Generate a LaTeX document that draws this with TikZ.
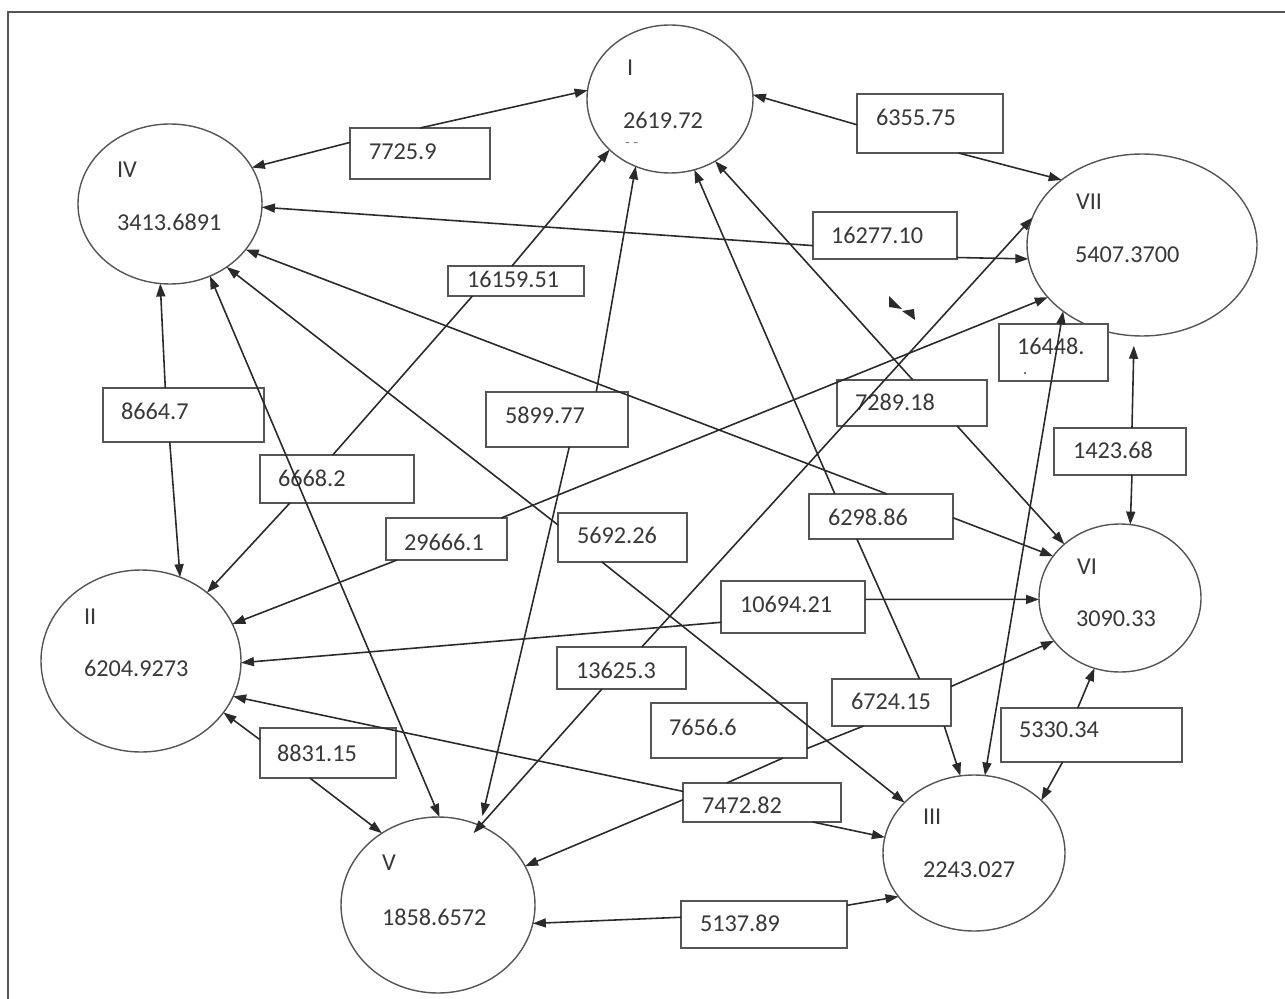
\documentclass[tikz,border=0pt]{standalone}
\usepackage{fontspec}
\setmainfont{Carlito}
\usetikzlibrary{shapes.geometric,arrows.meta}
\definecolor{ink}{HTML}{2A2A2A}
\definecolor{txt}{HTML}{383838}
\definecolor{edgec}{HTML}{555555}
\tikzset{
  vtx/.style={ellipse, draw=edgec, line width=0.8pt, inner sep=0pt, outer sep=0pt},
  lbl/.style={text=txt, inner sep=0pt, outer sep=0pt, anchor=west, font=\fontsize{13.8}{16}\selectfont},
  boxst/.style={draw=edgec, fill=white, line width=0.8pt, inner sep=0pt, outer sep=0pt, anchor=north west},
  con/.style={draw=ink, line width=0.9pt},
  arr/.style={con, -{Triangle[length=2.6mm, width=1.8mm]}},
  darr/.style={con, {Triangle[length=2.6mm, width=1.8mm]}-{Triangle[length=2.6mm, width=1.8mm]}},
}
\newcommand\lbox[8]{%
  \node[boxst, minimum width=#4*0.2mm, minimum height=#5*0.2mm] (#1) at (#2,#3) {};
  \node[lbl] (#1t) at (#6,#7) {#8};}
\begin{document}
\begin{tikzpicture}[x=0.2mm, y=-0.2mm]
\useasboundingbox (0,0) rectangle (1285,999);
% frame
\draw[edgec, line width=0.9pt] (8,999) -- (8,12) -- (1285,12);
% vertices
\node[vtx, minimum width=166*0.2mm, minimum height=148*0.2mm] (I) at (670,99) {};
\node[vtx, minimum width=184*0.2mm, minimum height=160*0.2mm] (IV) at (170,204) {};
\node[vtx, minimum width=230*0.2mm, minimum height=182*0.2mm] (VII) at (1142,245) {};
\node[vtx, minimum width=162*0.2mm, minimum height=148*0.2mm] (VI) at (1120,598) {};
\node[vtx, minimum width=200*0.2mm, minimum height=182*0.2mm] (II) at (141,661) {};
\node[vtx, minimum width=194*0.2mm, minimum height=176*0.2mm] (V) at (438,905) {};
\node[vtx, minimum width=182*0.2mm, minimum height=156*0.2mm] (III) at (974,853) {};
% vertex labels
\node[lbl] (Ia) at (627,68) {I};
\node[lbl] (Ib) at (623,120) {2619.72};
\node[lbl, text=gray, font=\fontsize{9}{9}\selectfont] (Ic) at (625,145) {- -};
\node[lbl] (IVa) at (117,170) {IV};
\node[lbl] (IVb) at (117,222) {3413.6891};
\node[lbl] (VIIa) at (1076,202) {VII};
\node[lbl] (VIIb) at (1075,255) {5407.3700};
\node[lbl] (VIa) at (1077,567) {VI};
\node[lbl] (VIb) at (1076,619) {3090.33};
\node[lbl] (IIa) at (84,617) {II};
\node[lbl] (IIb) at (84,668) {6204.9273};
\node[lbl] (Va) at (382,863) {V};
\node[lbl] (Vb) at (382,917) {1858.6572};
\node[lbl] (IIIa) at (923,817) {III};
\node[lbl] (IIIb) at (923,870) {2243.027};
% weight boxes
\lbox{B1}{350}{128}{140}{51}{369}{152}{7725.9}
\lbox{B2}{448}{266}{136}{30}{467}{279}{16159.51}
\lbox{B3}{857}{94}{146}{59}{876}{117}{6355.75}
\lbox{B4}{813}{212}{144}{47}{831}{235}{16277.10}
\lbox{B5}{103}{388}{161}{54}{121}{411}{8664.7}
\lbox{B6}{260}{455}{154}{48}{278}{478}{6668.2}
\lbox{B7}{386}{518}{121}{42}{404}{542}{29666.1}
\lbox{B8}{486}{392}{142}{55}{505}{415}{5899.77}
\lbox{B9}{558}{513}{129}{49}{577}{535}{5692.26}
\lbox{B10}{721}{581}{144}{52}{740}{604}{10694.21}
\lbox{B11}{557}{647}{129}{42}{576}{670}{13625.3}
\lbox{B12}{651}{703}{156}{55}{669}{727}{7656.6}
\lbox{B13}{832}{679}{119}{47}{851}{701}{6724.15}
\lbox{B14}{809}{494}{144}{45}{828}{517}{6298.86}
\lbox{B15}{683}{783}{158}{39}{702}{805}{7472.82}
\lbox{B16}{837}{380}{150}{46}{855}{402}{7289.18}
\lbox{B17}{999}{324}{109}{57}{1017}{346}{16448.}
\node[lbl, font=\fontsize{9}{9}\selectfont] (B17d) at (1023,374) {.};
\lbox{B18}{1054}{428}{132}{47}{1073}{450}{1423.68}
\lbox{B19}{1001}{708}{181}{54}{1019}{730}{5330.34}
\lbox{B20}{260}{728}{136}{50}{277}{753}{8831.15}
\lbox{B21}{681}{901}{166}{47}{700}{923}{5137.89}
% connectors
\draw[arr] (B1.90) -- (I.174);
\draw[arr] (B1.171) -- (IV.24);
\draw[arr] (B3.181) -- (I.3);
\draw[arr] (B3.314) -- (VII.141);
\draw[arr] (B4.188) -- (IV.358);
\draw[arr] (B4.343) -- (VII.187);
\draw[arr] (B2.105) -- (I.220);
\draw[con] (B2.199) -- (B6.100);
\draw[arr] (B6.207) -- (II.46);
\draw[arr] (B5.124) -- (IV.263);
\draw[arr] (B5.243) -- (II.65);
\draw[arr] (B8.35) -- (I.243);
\draw[arr, shorten >=2mm] (B8.294) -- (V.62);
\draw[arr] (B7.203) -- (II.22);
\draw[arr] (B7.21) -- (VII.209);
\draw[arr] (B9.169) -- (IV.312);
\draw[arr] (B9.230) -- (III.144);
\draw[arr] (B14.75) -- (IV.329);
\draw[arr] (B14.359) -- (VI.148);
\draw[arr] (B14.154) -- (I.289);
\draw[con] (B14.223) -- (B13.40);
\draw[arr] (B13.336) -- (III.100);
\draw[arr] (B13.15) -- (VI.213);
\draw[con] (B13.220) -- (B12.347);
\draw[con] (B12.333) -- (B15.151);
\draw[arr] (B15.178) -- (V.24);
\draw[arr] (B15.172) -- (II.339);
\draw[arr] (B15.339) -- (III.170);
\draw[arr] (B11.46) -- (VII.166);
\draw[arr, shorten >=-2mm] (B11.227) -- (V.62);
\draw[darr] (IV.299) -- (V.89);
\draw[darr] (VII.220) -- (III.82);
\draw[arr, shorten >=2mm] (B18.63) -- (VII.265);
\draw[arr] (B18.297) -- (VI.82);
\draw[arr] (B19.117) -- (VI.250);
\draw[arr] (B19.223) -- (III.38);
\draw[arr] (B20.169) -- (II.328);
\draw[arr] (B20.234) -- (V.128);
\draw[arr] (B21.175) -- (V.349);
\draw[arr] (B21.13) -- (III.210);
\draw[arr] (B10.192) -- (II.359);
\draw[arr] (B10.6) -- (VI.181);
\draw[arr] (B16.88) -- (I.306);
\draw[arr] (B16.333) -- (VI.136);
% stray bow-tie mark
\fill[ink] (889,296) -- (889,307) -- (902,309) -- cycle;
\fill[ink] (914,309) -- (915,320) -- (902,311) -- cycle;
\end{tikzpicture}
\end{document}
